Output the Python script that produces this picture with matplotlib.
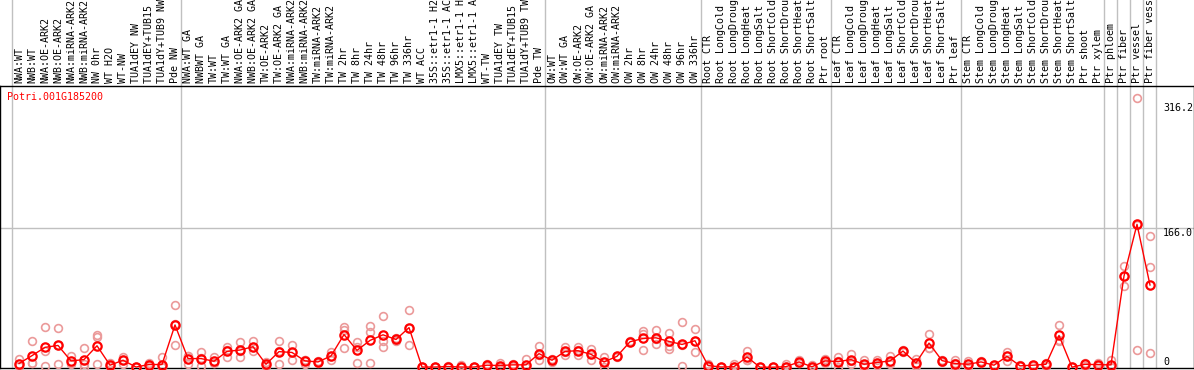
import matplotlib
matplotlib.use('Agg')
import matplotlib.pyplot as plt

# Sample labels, one per column
labels = [
    'NWA:WT', 'NWB:WT', 'NWA:OE-ARK2', 'NWB:OE-ARK2', 'NWA:miRNA-ARK2', 'NWB:miRNA-ARK2',
    'NW 0hr', 'WT H2O', 'WT-NW', 'TUA1dEY NW', 'TUA1dEY+TUB15 NW', 'TUA1dY+TUB9 NW', 'Pde NW',
    'NWA:WT GA', 'NWBWT GA', 'TW:WT', 'TW:WT GA', 'NWA:OE-ARK2 GA', 'NWB:OE-ARK2 GA',
    'TW:OE-ARK2', 'TW:OE-ARK2 GA', 'NWA:miRNA-ARK2 GA', 'NWB:miRNA-ARK2 GA', 'TW:miRNA-ARK2',
    'TW:miRNA-ARK2 GA', 'TW 2hr', 'TW 8hr', 'TW 24hr', 'TW 48hr', 'TW 96hr', 'TW 336hr',
    'WT ACC', '35S::etr1-1 H2O', '35S::etr1-1 ACC', 'LMX5::etr1-1 H2O', 'LMX5::etr1-1 ACC',
    'WT-TW', 'TUA1dEY TW', 'TUA1dEY+TUB15 TW', 'TUA1dY+TUB9 TW', 'Pde TW',
    'OW:WT', 'OW:WT GA', 'OW:OE-ARK2', 'OW:OE-ARK2 GA', 'OW:miRNA-ARK2', 'OW:miRNA-ARK2 GA',
    'OW 2hr', 'OW 8hr', 'OW 24hr', 'OW 48hr', 'OW 96hr', 'OW 336hr',
    'Root CTR', 'Root LongCold', 'Root LongDrought', 'Root LongHeat', 'Root LongSalt',
    'Root ShortCold', 'Root ShortDrought', 'Root ShortHeat', 'Root ShortSalt', 'Ptr root',
    'Leaf CTR', 'Leaf LongCold', 'Leaf LongDrought', 'Leaf LongHeat', 'Leaf LongSalt',
    'Leaf ShortCold', 'Leaf ShortDrought', 'Leaf ShortHeat', 'Leaf ShortSalt', 'Ptr leaf',
    'Stem CTR', 'Stem LongCold', 'Stem LongDrought', 'Stem LongHeat', 'Stem LongSalt',
    'Stem ShortCold', 'Stem ShortDrought', 'Stem ShortHeat', 'Stem ShortSalt', 'Ptr shoot',
    'Ptr xylem', 'Ptr phloem', 'Ptr fiber', 'Ptr vessel', 'Ptr fiber vessel',
]

# columns per experiment block (separated by grey lines)
group_sizes = [13, 28, 12, 10, 10, 11, 1, 1, 1, 1]

# mean expression per sample
means = [
    4.4, 13.8, 23.7, 26.0, 7.5, 9.1, 25.6, 2.4, 8.3, 0.2, 3.2, 3.2, 50.5,
    10.3, 10.3, 7.1, 18.9, 20.5, 24.5, 3.5, 18.6, 17.6, 7.5, 6.3, 13.4,
    39.0, 20.1, 32.0, 38.7, 33.1, 47.3, 0.2, 0.2, 0.8, 0.2, 0.2,
    2.4, 2.0, 2.8, 2.8, 16.2,
    8.3, 18.9, 19.7, 15.4, 6.3, 13.0, 30.4, 34.3, 35.1, 30.8, 27.2, 31.6,
    2.0, 0.2, 0.6, 12.2, 0.0, 0.0, 0.6, 6.3, 0.5, 7.5,
    6.7, 9.1, 3.5, 5.6, 7.5, 19.3, 5.1, 28.8, 7.9, 4.4,
    3.5, 6.3, 2.4, 13.0, 1.6, 2.4, 3.5, 37.9, 0.0, 3.5, 3.0,
    2.8, 109.0, 170.7, 98.2,
]

# individual replicates
reps = [
    [10.0, 1.0], [31.6, 5.1, 4.7], [48.5, 18.9, 1.0], [47.0, 26.0, 3.5],
    [13.4, 4.4, 4.7], [23.0, 4.3, 0.0], [37.9, 35.9, 4.4], [1.0, 4.6, 1.6],
    [12.2, 4.0, 8.7], [0.0, 0.3, 0.3], [5.0, 1.0, 3.6], [11.8, 0.0, 0.0],
    [74.2, 26.0, 51.3],
    [12.8, 4.4, 13.7], [17.8, 2.0, 11.0], [12.2, 4.5, 4.6], [24.0, 12.6, 20.1],
    [29.6, 12.6, 19.3], [30.8, 18.9, 23.8], [6.5, 1.0, 3.0], [31.6, 4.4, 19.8],
    [26.0, 9.1, 17.7], [9.1, 4.4, 9.0], [7.5, 5.2], [18.1, 9.1, 13.0],
    [47.7, 45.0, 23.3], [30.4, 24.3, 5.6], [49.7, 41.8, 5.6], [61.5, 31.0, 23.6],
    [35.0, 31.5, 32.8], [68.2, 26.8, 46.9], [0.0, 0.3, 0.3], [0.0, 0.3, 0.3],
    [1.5, 0.5, 0.4], [2.5, 0.0, 0.0], [0.3, 0.2, 0.1],
    [4.4, 1.5, 1.3], [5.2, 0.5, 0.3], [4.4, 2.0, 2.0], [9.5, 0.8, 0.5], [24.8, 9.1, 14.7],
    [10.0, 6.6, 8.3], [24.0, 14.0, 18.7], [24.0, 14.0, 21.0], [21.3, 8.3, 16.6],
    [12.2, 0.0, 6.7], [13.5, 12.5], [30.0, 31.0], [43.8, 40.0, 20.9],
    [44.6, 27.2, 33.5], [41.4, 24.8, 21.3], [54.0, 1.2, 26.4], [45.8, 17.8, 31.2],
    [4.4, 1.0, 0.6], [0.5, 0.0, 0.0], [3.8, 0.0, 0.1], [19.3, 8.3, 9.0],
    [0.0, 0.0], [0.0, 0.0], [3.8, 0.0, 0.1], [8.3, 5.0, 5.6], [3.2, 0.0, 0.0],
    [10.3, 4.7, 7.5],
    [12.6, 0.0, 7.5], [15.4, 4.0, 8.0], [8.3, 0.0, 2.2], [8.3, 3.0, 5.5],
    [13.0, 3.5, 6.0], [20.0, 18.6], [10.0, 1.6, 3.7], [39.8, 23.3, 23.3],
    [9.1, 6.7], [8.3, 0.4, 4.5],
    [7.5, 1.5, 1.5], [7.5, 5.1], [3.0, 1.8], [18.1, 8.0, 13.0], [1.0, 2.2],
    [3.0, 1.8], [5.0, 2.0], [50.9, 32.0, 30.8], [0.0, 0.0], [5.0, 2.0], [4.5, 1.5],
    [9.1, 0.0, 0.0], [121.0, 97.0, 109.0], [321.6, 20.4, 170.0], [156.8, 119.4, 16.6],
]

gene = 'Potri.001G185200'
right_ticks = [316.2, 166.0, 0]
right_tick_labels = ['316.2', '166.0', '0']

mono = 'DejaVu Sans Mono'
W, H = 1194, 370

fig = plt.figure(figsize=(W / 100, H / 100), dpi=100)
ax = fig.add_axes([0, 2 / H, 1, 282 / H])

x = list(range(len(labels)))

# replicates
for i, r in enumerate(reps):
    ax.plot([i] * len(r), r, linestyle='none', marker='o', ms=5.6,
            mfc='none', mec='#EB9A9A', mew=1.2, zorder=3, clip_on=False)

# means
ax.plot(x, means, color='#FF0000', lw=1, marker='o', ms=6, mfc='none',
        mec='#FF0000', mew=1.6, zorder=4, clip_on=False)

ax.set_xlim(-19 / 13, (W - 19) / 13)
ax.set_ylim(-0.96, 336)
ax.set_xticks([])
ax.set_yticks([])
for s in ax.spines.values():
    s.set_color('black')
    s.set_linewidth(1)

# block separators, running up through the label area
pos = 0
seps = [-0.55]
for g in group_sizes:
    pos += g
    seps.append(pos - 0.55)
for s in seps:
    ax.axvline(s, ymin=0, ymax=(H - 2) / 282, color='#C0C0C0', lw=1,
               zorder=1, clip_on=False)

ax.axhline(166.0, color='#C0C0C0', lw=1, zorder=1)

# column labels on top
trans = ax.get_xaxis_transform()
for i, lab in enumerate(labels):
    ax.text(i, 1 + 3 / 282, lab, transform=trans, rotation=90, ha='center',
            va='bottom', fontsize=7.2, family=mono, clip_on=False)

# value labels on the right
for v, t in zip(right_ticks, right_tick_labels):
    ax.text(88.0, v, t, ha='left', va='top' if v > 0 else 'bottom',
            fontsize=7.2, family=mono)

fig.text(7 / W, 1 - 97 / H, gene, color='#FF0000', fontsize=7.2,
         family=mono, va='center', ha='left')

fig.savefig('out.png', dpi=100)
plt.close()
